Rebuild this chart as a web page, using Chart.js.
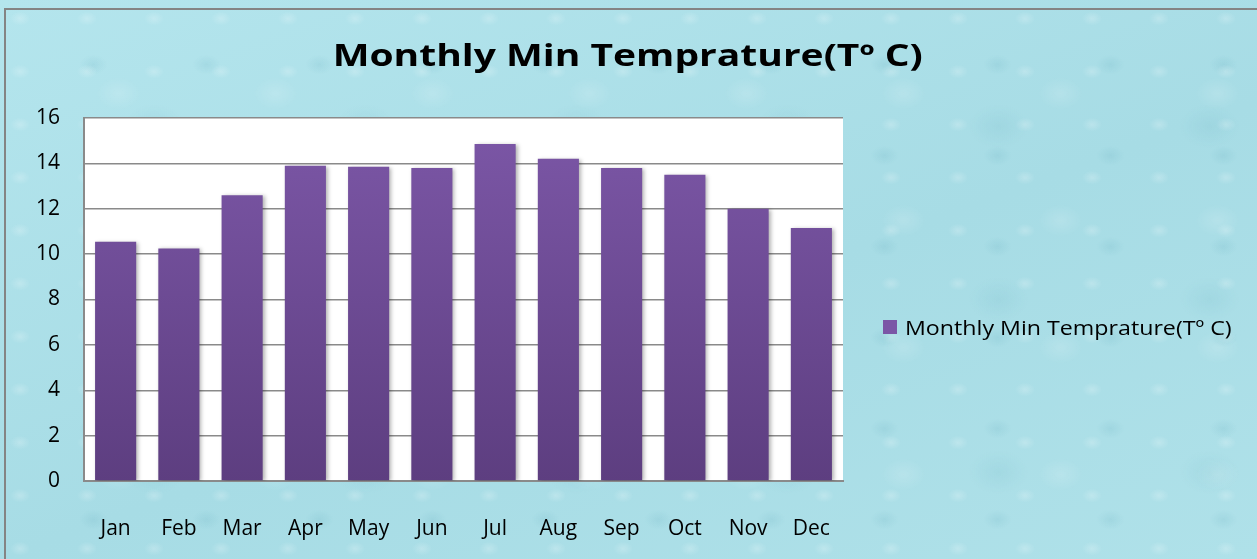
<!DOCTYPE html>
<html>
<head>
<meta charset="utf-8">
<script src="https://cdn.jsdelivr.net/npm/chart.js@4"></script>
<style>
  html, body { margin: 0; padding: 0; }
  body {
    width: 1257px; height: 559px; overflow: hidden; position: relative;
    background:
      radial-gradient(ellipse 10px 7px at 30% 35%, rgba(255,255,255,0.22), rgba(255,255,255,0)) 0 0 / 67px 53px,
      radial-gradient(ellipse 14px 10px at 65% 60%, rgba(70,150,170,0.12), rgba(70,150,170,0)) 20px 10px / 113px 91px,
      radial-gradient(ellipse 22px 16px at 50% 50%, rgba(255,255,255,0.14), rgba(255,255,255,0)) 40px 30px / 157px 127px,
      radial-gradient(ellipse 30px 22px at 40% 70%, rgba(80,160,180,0.1), rgba(80,160,180,0)) 70px 5px / 211px 173px,
      linear-gradient(160deg, #b4e5ed, #a7dce5 55%, #afe1e9);
  }
  #frame {
    position: absolute; left: 4px; top: 8px; width: 1300px; height: 600px;
    border-left: 2px solid #848484; border-top: 2px solid #848484;
  }
  #wrap { position: absolute; left: 0; top: 0; width: 1257px; height: 559px; }
  #title {
    position: absolute; left: 0; width: 1257px; top: 40px; text-align: center;
    font-family: "Open Sans", sans-serif; font-weight: bold; font-size: 30px; line-height: 30px;
    color: #000; transform: scaleX(1.3); transform-origin: 631px 0;
    white-space: nowrap;
  }
  #legend {
    position: absolute; left: 883px; top: 314px; height: 26px;
    display: flex; align-items: center;
    font-family: "Open Sans", sans-serif; font-size: 20px; color: #000;
    white-space: nowrap;
  }
  #legend .box { width: 14px; height: 14px; background: #7b56a6; margin-right: 8px; }
  #legendText { display: inline-block; transform: scaleX(1.16); transform-origin: 0 50%; }
</style>
</head>
<body>
<div id="frame"></div>
<div id="wrap"><canvas id="chart" width="1257" height="559"></canvas></div>
<div id="title"></div>
<div id="legend"><span class="box"></span><span id="legendText"></span></div>
<script>
const TITLE = 'Monthly Min Temprature(Tº C)';
const months = ['Jan', 'Feb', 'Mar', 'Apr', 'May', 'Jun', 'Jul', 'Aug', 'Sep', 'Oct', 'Nov', 'Dec'];
const minTemp = [10.55, 10.25, 12.6, 13.9, 13.85, 13.8, 14.85, 14.2, 13.8, 13.5, 12.0, 11.15];
const yTicks = [0, 2, 4, 6, 8, 10, 12, 14, 16];

const FONT = '"Open Sans", sans-serif';

document.getElementById('title').textContent = TITLE;
document.getElementById('legendText').textContent = TITLE;

// white plot area + bar shadow
const plotBg = {
  id: 'plotBg',
  beforeDraw(chart) {
    const { ctx, chartArea: a } = chart;
    ctx.save();
    ctx.fillStyle = '#ffffff';
    ctx.fillRect(a.left, a.top, a.right - a.left, a.bottom - a.top);
    ctx.restore();
  },
  beforeDatasetDraw(chart) {
    const ctx = chart.ctx;
    ctx.save();
    ctx.shadowColor = 'rgba(0,0,0,0.3)';
    ctx.shadowBlur = 4;
    ctx.shadowOffsetX = 2;
    ctx.shadowOffsetY = 1;
  },
  afterDatasetDraw(chart) {
    chart.ctx.restore();
  }
};

function barGradient(context) {
  const { ctx, chartArea } = context.chart;
  if (!chartArea) return '#6f4c98';
  const g = ctx.createLinearGradient(0, chartArea.top, 0, chartArea.bottom);
  g.addColorStop(0, '#7c57a7');
  g.addColorStop(1, '#5d3e80');
  return g;
}

const chart = new Chart(document.getElementById('chart'), {
  type: 'bar',
  data: {
    labels: months,
    datasets: [{
      label: TITLE,
      data: minTemp,
      backgroundColor: barGradient,
      borderWidth: 0,
      barPercentage: 0.65,
      categoryPercentage: 1
    }]
  },
  options: {
    responsive: false,
    animation: false,
    layout: { padding: { left: 0, right: 414, top: 118, bottom: 0 } },
    scales: {
      x: {
        grid: { display: false },
        border: { display: true, color: '#8a8a8a', width: 2 },
        ticks: { color: '#000', padding: 27, font: { family: FONT, size: 21 } },
        afterFit(scale) { scale.height = 78; }
      },
      y: {
        min: 0,
        max: 16,
        afterBuildTicks(scale) { scale.ticks = yTicks.map(v => ({ value: v })); },
        grid: { color: '#8a8a8a', lineWidth: 1.5, drawTicks: false },
        border: { display: true, color: '#8a8a8a', width: 2 },
        ticks: { color: '#000', padding: 24, font: { family: FONT, size: 21 } },
        afterFit(scale) { scale.width = 84; }
      }
    },
    plugins: {
      legend: { display: false },
      tooltip: { enabled: false },
      title: { display: false }
    }
  },
  plugins: [plotBg]
});
</script>
</body>
</html>
